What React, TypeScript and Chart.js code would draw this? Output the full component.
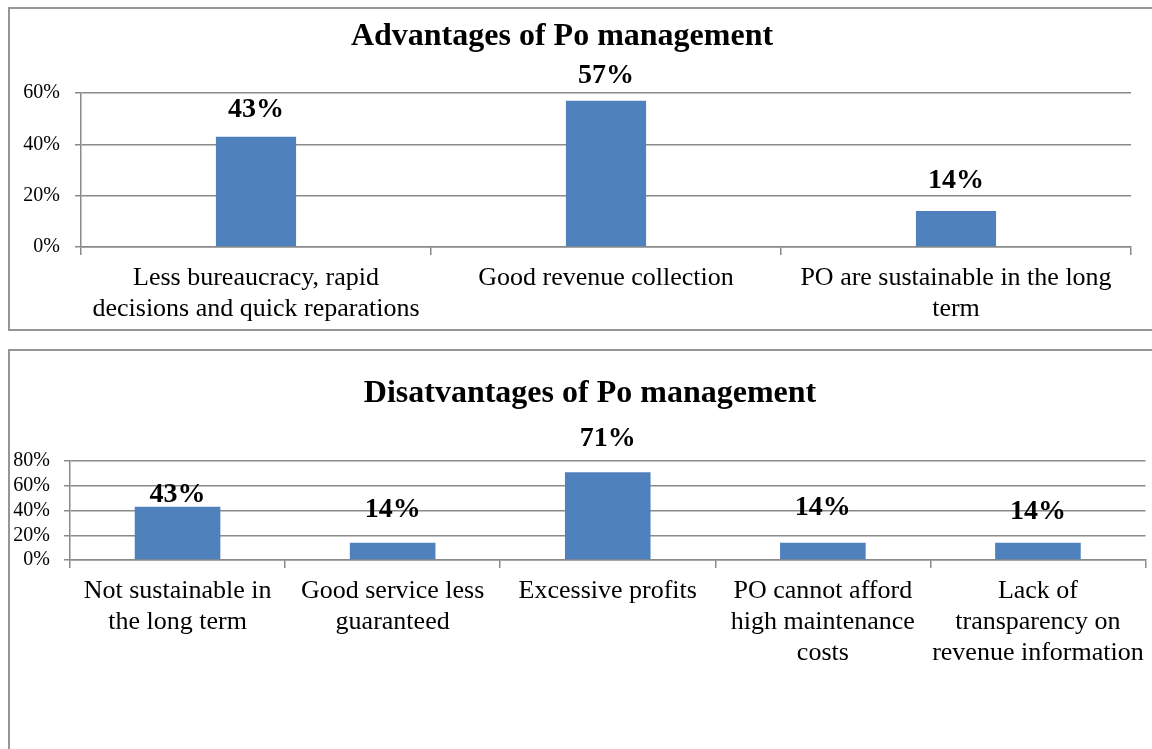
import React, { useEffect, useRef } from "react";
import { Chart, registerables } from "chart.js";

Chart.register(...registerables);

// ---- Data ----
const advTitle = "Advantages of Po management";
const advCategories: string[][] = [
  ["Less bureaucracy, rapid", "decisions and quick reparations"],
  ["Good revenue collection"],
  ["PO are sustainable in the long", "term"],
];
const advValues = [43, 57, 14];
const advMax = 60;

const disTitle = "Disatvantages of Po management";
const disCategories: string[][] = [
  ["Not sustainable in", "the long term"],
  ["Good service less", "guaranteed"],
  ["Excessive profits"],
  ["PO cannot afford", "high maintenance", "costs"],
  ["Lack of", "transparency on", "revenue information"],
];
const disValues = [43, 14, 71, 14, 14];
const disMax = 80;

const tickStep = 20;

const FONT = "'Liberation Serif', 'Times New Roman', serif";
const GRID = "#8a8a8a";
const BAR = "#4F81BD";

type Cfg = {
  title: string;
  titleX: number;
  titleY: number;
  labels: string[][];
  values: number[];
  max: number;
  width: number;
  height: number;
  padTop: number;
  padRight: number;
  yWidth: number;
  xHeight: number;
  yPad: number;
  barPct: number;
  gaps: number[];
};

const overlayPlugin = {
  id: "overlay",
  afterDatasetsDraw(chart: any, _args: any, opts: any) {
    const ctx = chart.ctx;
    ctx.save();
    ctx.fillStyle = "#000";
    ctx.textAlign = "center";
    ctx.textBaseline = "alphabetic";
    ctx.font = `bold 32px ${FONT}`;
    ctx.fillText(opts.title, opts.titleX, opts.titleY);
    ctx.font = `bold 28px ${FONT}`;
    const meta = chart.getDatasetMeta(0);
    const data = chart.data.datasets[0].data as number[];
    meta.data.forEach((el: any, i: number) => {
      ctx.fillText(`${data[i]}%`, el.x, el.y - (opts.gaps[i] ?? 20));
    });
    ctx.restore();
  },
};

function BarChart({ cfg }: { cfg: Cfg }) {
  const ref = useRef<HTMLCanvasElement | null>(null);
  useEffect(() => {
    if (!ref.current) return;
    const chart = new Chart(ref.current, {
      type: "bar",
      data: {
        labels: cfg.labels,
        datasets: [
          {
            data: cfg.values,
            backgroundColor: BAR,
            borderWidth: 0,
            categoryPercentage: 1,
            barPercentage: cfg.barPct,
          },
        ],
      },
      plugins: [overlayPlugin],
      options: {
        responsive: false,
        animation: false,
        devicePixelRatio: 1,
        layout: { padding: { top: cfg.padTop, right: cfg.padRight, left: 0, bottom: 0 } },
        plugins: {
          legend: { display: false },
          title: { display: false },
          tooltip: { enabled: false },
          overlay: {
            title: cfg.title,
            titleX: cfg.titleX,
            titleY: cfg.titleY,
            gaps: cfg.gaps,
          },
        } as any,
        scales: {
          x: {
            offset: true,
            grid: {
              display: true,
              offset: true,
              drawOnChartArea: false,
              drawTicks: true,
              tickLength: 8,
              color: GRID,
              lineWidth: 1.5,
            },
            border: { display: true, color: GRID, width: 1.5 },
            ticks: {
              autoSkip: false,
              maxRotation: 0,
              minRotation: 0,
              padding: 8,
              color: "#000",
              font: { family: FONT, size: 26, lineHeight: 1.18 },
            },
            afterFit: (s: any) => {
              s.height = cfg.xHeight;
            },
          },
          y: {
            min: 0,
            max: cfg.max,
            grid: {
              color: GRID,
              lineWidth: 1.5,
              drawTicks: true,
              tickLength: 6,
            },
            border: { display: true, color: GRID, width: 1.5 },
            ticks: {
              stepSize: tickStep,
              autoSkip: false,
              padding: cfg.yPad,
              color: "#000",
              font: { family: FONT, size: 20 },
              callback: (v: any) => `${v}%`,
            },
            afterFit: (s: any) => {
              s.width = cfg.yWidth;
            },
          },
        },
      },
    });
    return () => chart.destroy();
  }, [cfg]);
  return (
    <canvas
      ref={ref}
      width={cfg.width}
      height={cfg.height}
      style={{ display: "block", width: cfg.width, height: cfg.height }}
    />
  );
}

const topCfg: Cfg = {
  title: advTitle,
  titleX: 553,
  titleY: 37,
  labels: advCategories,
  values: advValues,
  max: advMax,
  width: 1143,
  height: 321,
  padTop: 85,
  padRight: 21,
  yWidth: 72,
  xHeight: 82,
  yPad: 15,
  barPct: 0.229,
  gaps: [20, 18, 23],
};

const bottomCfg: Cfg = {
  title: disTitle,
  titleX: 581,
  titleY: 51,
  labels: disCategories,
  values: disValues,
  max: disMax,
  width: 1143,
  height: 398,
  padTop: 110,
  padRight: 3,
  yWidth: 61,
  xHeight: 189,
  yPad: 14,
  barPct: 0.398,
  gaps: [5, 26, 26, 28, 24],
};

export default function App() {
  return (
    <div
      style={{
        position: "fixed",
        left: 0,
        top: 0,
        width: 1152,
        height: 749,
        overflow: "hidden",
        background: "#fff",
      }}
    >
      <div
        style={{
          position: "absolute",
          left: 8,
          top: 7,
          width: 1200,
          height: 324,
          boxSizing: "border-box",
          border: "2px solid #959595",
        }}
      />
      <div
        style={{
          position: "absolute",
          left: 8,
          top: 349,
          width: 1200,
          height: 500,
          boxSizing: "border-box",
          border: "2px solid #959595",
        }}
      />
      <div style={{ position: "absolute", left: 9, top: 8 }}>
        <BarChart cfg={topCfg} />
      </div>
      <div style={{ position: "absolute", left: 9, top: 351 }}>
        <BarChart cfg={bottomCfg} />
      </div>
    </div>
  );
}
